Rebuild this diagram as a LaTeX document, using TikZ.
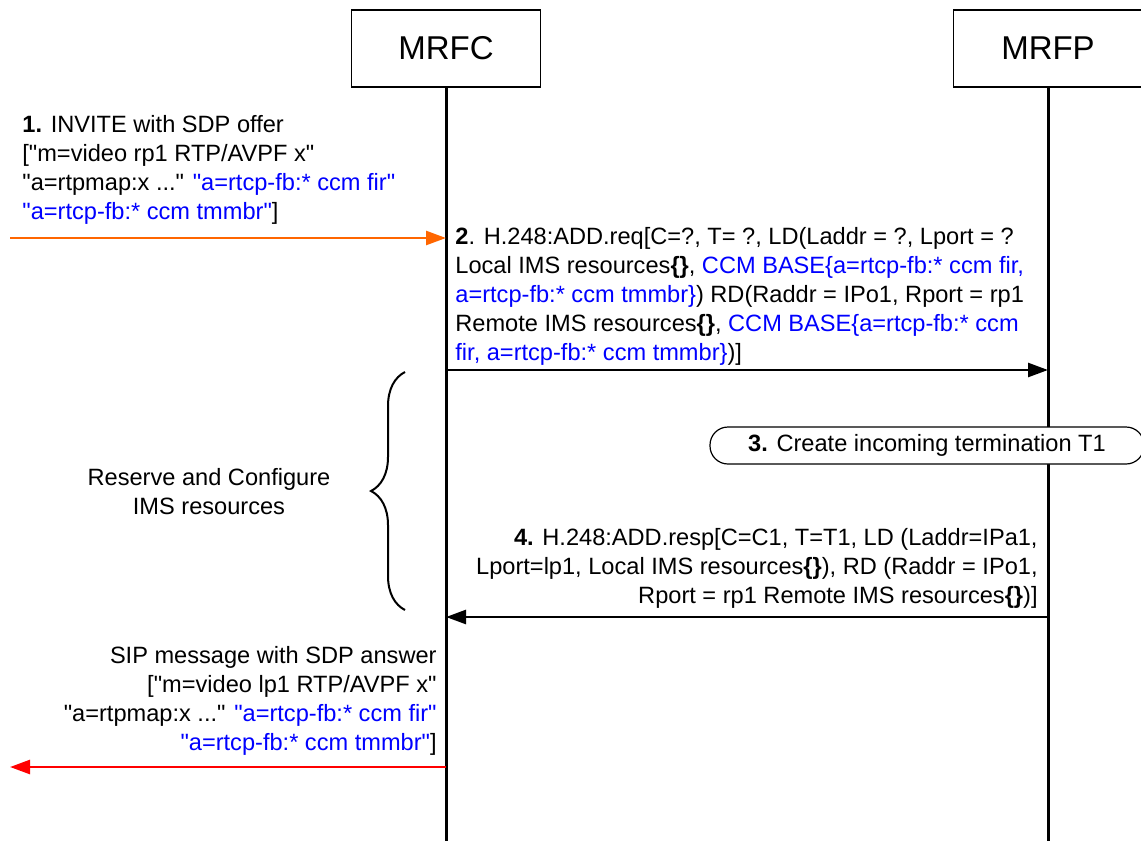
\documentclass[tikz,border=0pt]{standalone}
\usepackage{fontspec}
\setmainfont{Liberation Sans}
\usetikzlibrary{arrows.meta, decorations.pathreplacing}
\definecolor{sdporange}{RGB}{255,102,0}
\definecolor{sdpred}{RGB}{255,0,0}
\definecolor{ccmblue}{RGB}{0,0,255}
\newcommand{\msgsize}{\fontsize{11.8}{14.5}\selectfont}
\newcommand{\ccm}[1]{\textcolor{ccmblue}{#1}}
\newcommand{\qt}[1]{\textquotedbl#1\textquotedbl}
\newcommand{\emptyres}{\textbf{\{\}}}

\begin{document}
\begin{tikzpicture}[x=0.5pt, y=-0.5pt,
        entity/.style={draw, line width=0.8pt, minimum width=94.5pt, minimum height=38.5pt, font=\fontsize{16.5}{18}\selectfont},
        lifeline/.style={line width=1.5pt},
        msg/.style={line width=1.3pt, -{Triangle[length=10pt, width=7pt]}},
        msgtxt/.style={inner sep=0pt, font=\msgsize},
        action/.style={draw, fill=white, line width=0.6pt, rounded corners=9pt, minimum width=217pt, minimum height=18.5pt, font=\msgsize}]
        \useasboundingbox (0,0) rectangle (1141,841);

        % Entities and lifelines
        \node[entity] (mrfc) at (446,48.5) {MRFC};
        \node[entity] (mrfp) at (1048,48.5) {MRFP};
        \coordinate (bottom) at (0,841);
        \draw[lifeline] (mrfc.south) -- (mrfc.south |- bottom);
        \draw[lifeline] (mrfp.south) -- (mrfp.south |- bottom);

        % 1. INVITE
        \node[msgtxt, anchor=north west, align=left] (invite) at (22,115) {\textbf{1.} INVITE with SDP offer\\
            {[}\qt{m=video rp1 RTP/AVPF x}\\
            \qt{a=rtpmap:x ...} \ccm{\qt{a=rtcp-fb:* ccm fir}}\\
            \ccm{\qt{a=rtcp-fb:* ccm tmmbr}}]};
        \coordinate (src) at (10,238);
        \draw[msg, sdporange] (src) -- (src -| mrfc);

        % 2. ADD.req
        \node[msgtxt, anchor=north west, align=left] (addreq) at (455,227) {\textbf{2}. H.248:ADD.req[C=?, T= ?, LD(Laddr = ?, Lport = ?\\
            Local IMS resources\emptyres, \ccm{CCM BASE\{a=rtcp-fb:* ccm fir,}\\
            \ccm{a=rtcp-fb:* ccm tmmbr\}}) RD(Raddr = IPo1, Rport = rp1\\
            Remote IMS resources\emptyres, \ccm{CCM BASE\{a=rtcp-fb:* ccm}\\
            \ccm{fir, a=rtcp-fb:* ccm tmmbr\}})]};
        \coordinate (req) at (0,370);
        \draw[msg] (req -| mrfc) -- (req -| mrfp);

        % Reserve and configure
        \draw[line width=1pt, decorate, decoration={brace, amplitude=17pt}] (405,610) -- (405,372);
        \node[msgtxt, align=center] (reserve) at (209,492) {Reserve and Configure\\IMS resources};

        % 3. Create termination
        \node[action] (create) at (927,445.5) {\textbf{3.} Create incoming termination T1};

        % 4. ADD.resp
        \node[msgtxt, anchor=north east, align=right] (addresp) at (1038,528) {\textbf{4.} H.248:ADD.resp[C=C1, T=T1, LD (Laddr=IPa1,\\
            Lport=lp1, Local IMS resources\emptyres), RD (Raddr = IPo1,\\
            Rport = rp1 Remote IMS resources\emptyres)]};
        \coordinate (resp) at (0,617);
        \draw[msg] (resp -| mrfp) -- (resp -| mrfc);

        % SIP answer
        \node[msgtxt, anchor=north east, align=right] (answer) at (437,646) {SIP message with SDP answer\\
            {[}\qt{m=video lp1 RTP/AVPF x}\\
            \qt{a=rtpmap:x ...} \ccm{\qt{a=rtcp-fb:* ccm fir}}\\
            \ccm{\qt{a=rtcp-fb:* ccm tmmbr}}]};
        \coordinate (dst) at (10,767);
        \draw[msg, sdpred] (dst -| mrfc) -- (dst);
    \end{tikzpicture}
\end{document}
